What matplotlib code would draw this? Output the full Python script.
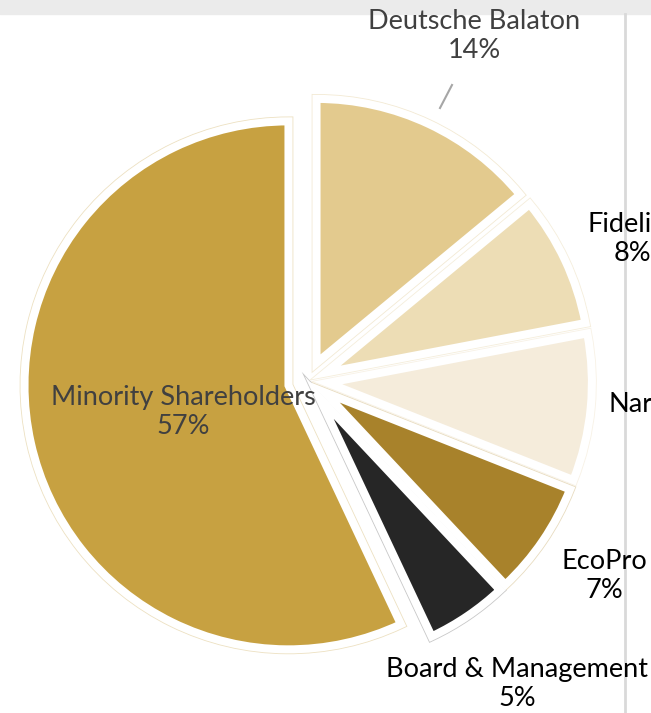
import numpy as np
import matplotlib.pyplot as plt
from matplotlib.patches import Rectangle

# shareholder structure
holders = ["Deutsche Balaton", "Fidelity", "Narragansett", "EcoPro",
           "Board & Management", "Minority Shareholders"]
shares = [14, 8, 9, 7, 5, 57]
colors = ["#E3CA8E", "#EDDDB5", "#F5ECDB", "#A8822B", "#262626", "#C7A141"]
rims = ["#F3EAD4", "#F5EEDC", "#F8F2E6", "#E8DCC0", "#C8C8C8", "#EDE1C2"]
label_colors = ["#404040", "black", "black", "black", "black", "#404040"]

W, H = 651, 713
fig = plt.figure(figsize=(W / 100, H / 100), dpi=100)
ax = fig.add_axes([0, 0, 1, 1])

# top bar and right divider like the original slide
ax.add_patch(Rectangle((0, H - 14), W, 14, color="#EBEBEB", zorder=0))
ax.plot([625, 625], [0, H - 14], color="#D9D9D9", lw=2, zorder=0)

center = (308, 332)
radius = 264
explode = [20] * len(shares)  # pie explode is in data units here

# faint outer rim, then white border on top
wedges, _ = ax.pie(shares, colors=colors, startangle=90, counterclock=False,
                   explode=explode, center=center, radius=radius,
                   wedgeprops=dict(linewidth=7), frame=True)
for w, c in zip(wedges, rims):
    w.set_edgecolor(c)
ax.pie(shares, colors=colors, startangle=90, counterclock=False,
       explode=explode, center=center, radius=radius,
       wedgeprops=dict(linewidth=5.8, edgecolor="white"), frame=True)
ax.set_xlim(0, W)
ax.set_ylim(0, H)
ax.set_aspect("auto")
ax.axis("off")

# label spots (pixel layout)
label_xy = [(474, 677), (632, 474), (686, 294), (604, 137), (517, 29), (183, 301)]
for name, v, (x, y), tc in zip(holders, shares, label_xy, label_colors):
    ax.text(x, y, f"{name}\n{v}%", ha="center", va="center", fontsize=19.5,
            family="Lato", color=tc, linespacing=1.2, zorder=5)

# leader line for Deutsche Balaton
ax.plot([440, 452], [H - 108, H - 85], color="#A6A6A6", lw=1.5)

fig.savefig("out.png", dpi=100)
